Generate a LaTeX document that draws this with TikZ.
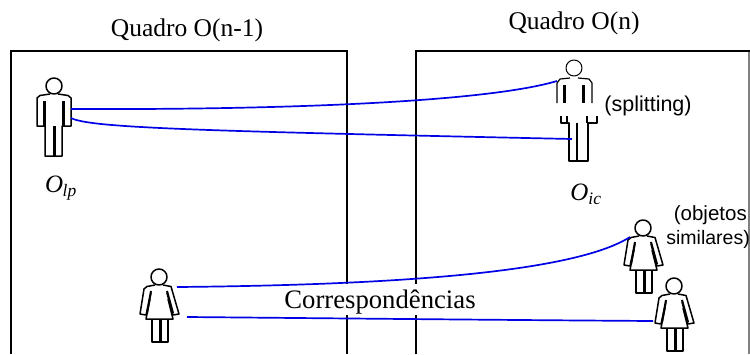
\documentclass[tikz,border=0pt]{standalone}
\usepackage{fontspec}
\setmainfont{Liberation Serif}
\newfontfamily\arialf{Liberation Sans}
\definecolor{linkblue}{RGB}{0,0,230}
\tikzset{
  x=1pt,y=-1pt,
  frame/.style={draw=black,line width=1.6pt},
  link/.style={draw=linkblue,line width=1.7pt},
  outline/.style={draw=black,line width=1.5pt,line join=round},
  inner/.style={draw=black,line width=3pt},
  titlelabel/.style={font=\fontsize{25.5}{26}\selectfont,inner sep=0pt},
  notelabel/.style={font=\arialf\fontsize{20.5}{22}\selectfont,inner sep=0pt,align=center},
  objlabel/.style={font=\fontsize{25}{25}\selectfont\itshape,inner sep=0pt},
  man/.pic={
    \draw[outline] (0,0) circle (8);
    \draw[outline] (-4,8) -- (-14,9.5) -- (-17,12) -- (-17,40) -- (-9,40) -- (-9,70) -- (8,70) -- (8,40) -- (17,40) -- (17,12) -- (14,9.5) -- (4,8);
    \draw[inner] (-10,15) -- (-10,40) (9,15) -- (9,40) (0,40) -- (0,70);
  },
  woman/.pic={
    \draw[outline] (0,0) circle (8);
    \draw[outline] (-4,8) -- (-12,9.5) -- (-15,12) -- (-19,37) -- (-13,38) -- (-8,16);
    \draw[outline] (4,8) -- (12,9.5) -- (20,37) -- (14,38) -- (8,16);
    \draw[outline] (-9,22) -- (-13,42) -- (14,42) -- (9,22);
    \draw[outline] (-7,42) -- (-7,65) -- (9,65) -- (9,42);
    \draw[inner,line width=2pt] (-8,14) -- (-12,36) (8,14) -- (14,36);
    \draw[inner] (1,42) -- (1,65);
  }
}
\begin{document}
\begin{tikzpicture}
\useasboundingbox (0,0) rectangle (750,354);
\fill[white] (0,0) rectangle (750,354);
\draw[frame] (11,354) -- (11,51) -- (347,51) -- (347,354);
\draw[frame] (416,354) -- (416,51) -- (750,51);
\draw[draw=gray,line width=1.2pt] (749,52) -- (749,354);
\node[titlelabel] (t1) at (187,30) {Quadro O(n-1)};
\node[titlelabel] (t2) at (574,23) {Quadro O(n)};
\fill[white] (283,284) rectangle (478,315);
\node[titlelabel,font=\fontsize{26.7}{27}\selectfont] (corr) at (380,302) {Correspondências};
\pic at (54,86) {man};
\pic at (643,228) {woman};
\pic at (674,286) {woman};
\pic at (159,277) {woman};
% split figure
\draw[outline,line width=1pt] (574,68) circle (8);
\draw[outline,line width=1.2pt] (557,103) -- (557,83) -- (560,79) -- (570,78) (578,78) -- (589,79) -- (592,83) -- (592,103);
\draw[inner] (564,85) -- (564,103) (583,85) -- (583,103);
\draw[outline,line width=1.2pt] (561,116) -- (561,123) -- (569,123) -- (569,161) -- (588,161) -- (588,123) -- (597,123) -- (597,116);
\draw[inner,line width=2.4pt] (567,116) -- (567,123) (587,116) -- (587,123) (577,123) -- (577,161);
\coordinate (manA) at (71,109);
\coordinate (manB) at (71,118);
\coordinate (splitA) at (557,81);
\coordinate (splitB) at (572,139);
\coordinate (womA) at (177,287);
\coordinate (womB) at (187,317);
\coordinate (simA) at (630,237);
\coordinate (simB) at (653,321);
\draw[link] (manA) .. controls (300,110) and (490,101) .. (splitA);
\draw[link] (manB) .. controls (90,128) and (200,131) .. (splitB);
\draw[link] (womA) .. controls (400,285) and (575,272) .. (simA);
\draw[link] (womB) .. controls (300,318) and (500,320) .. (simB);
\node[objlabel] (olp) at (61,188) {O\textsubscript{\kern-.5pt lp}};
\node[objlabel] (oic) at (586,194) {O\textsubscript{ic}};
\node[notelabel,font=\arialf\fontsize{21.5}{22}\selectfont] (split) at (648,106) {(splitting)};
\node[notelabel,anchor=east] (sim1) at (747,215) {(objetos};
\node[notelabel,anchor=east,font=\arialf\fontsize{19.5}{22}\selectfont] (sim2) at (750,239) {similares)};
\end{tikzpicture}
\end{document}
